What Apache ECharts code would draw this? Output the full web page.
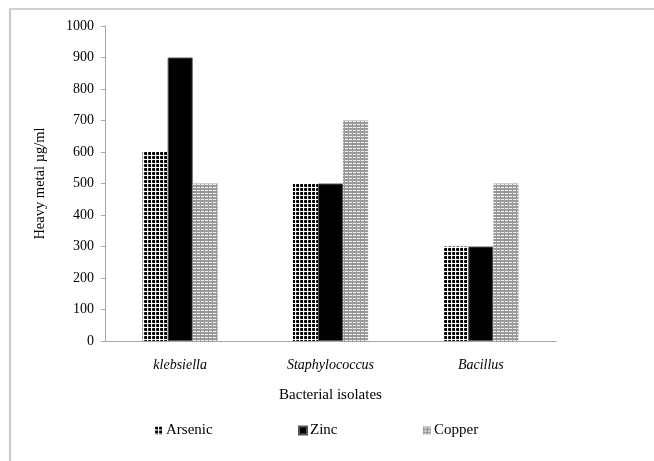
<!DOCTYPE html>
<html>
<head>
<meta charset="utf-8">
<script src="https://cdn.jsdelivr.net/npm/echarts@6/dist/echarts.min.js"></script>
<style>
html,body{margin:0;padding:0;background:#fff;}
#frame{position:absolute;left:9px;top:8px;width:700px;height:500px;border-left:2px solid #c8c8c8;border-top:2px solid #d0d0d0;}
#chart{position:absolute;left:0;top:0;width:654px;height:461px;}
</style>
</head>
<body>
<div id="frame"></div>
<div id="chart"></div>
<script>
const categories = ['klebsiella', 'Staphylococcus', 'Bacillus'];
const seriesNames = ['Arsenic', 'Zinc', 'Copper'];
const arsenic = [600, 500, 300];
const zinc = [900, 500, 300];
const copper = [500, 700, 500];
const yTicks = [0, 100, 200, 300, 400, 500, 600, 700, 800, 900, 1000];

function makePattern(draw, w, h) {
  const c = document.createElement('canvas');
  c.width = w; c.height = h;
  const ctx = c.getContext('2d');
  draw(ctx);
  return { image: c, repeat: 'repeat' };
}
const arsenicPat = makePattern(function (ctx) {
  ctx.fillStyle = '#ffffff'; ctx.fillRect(0, 0, 4, 4);
  ctx.fillStyle = '#000000';
  ctx.fillRect(1, 0, 2, 3);
  ctx.fillRect(0, 1, 3, 1);
  ctx.fillStyle = '#444';
  ctx.fillRect(0, 0, 1, 1);
  ctx.fillRect(0, 2, 1, 1);
}, 4, 4);
const copperPat = makePattern(function (ctx) {
  ctx.fillStyle = '#9a9a9a'; ctx.fillRect(0, 0, 4, 3);
  ctx.fillStyle = '#f0f0f0';
  ctx.fillRect(1, 1, 3, 1);
}, 4, 3);

const chart = echarts.init(document.getElementById('chart'));
const serif = 'Liberation Serif, Times New Roman, serif';
const datasets = [arsenic, zinc, copper];
const colors = [arsenicPat, '#000000', copperPat];

const legendLefts = [150, 293, 418];
chart.setOption({
  animation: false,
  backgroundColor: 'transparent',
  grid: { left: 105, right: 98, top: 26, bottom: 120, containLabel: false },
  legend: seriesNames.map(function (n, i) {
    return {
      data: [n], left: legendLefts[i], top: 418,
      icon: 'rect', itemWidth: 8, itemHeight: 8, itemGap: 0,
      textStyle: { fontFamily: serif, fontSize: 15, color: '#000', padding: [0, 0, 0, -2] }
    };
  }),
  xAxis: {
    type: 'category', data: categories,
    name: 'Bacterial isolates', nameLocation: 'middle', nameGap: 47,
    nameTextStyle: { fontFamily: serif, fontSize: 15, color: '#000' },
    axisLine: { lineStyle: { color: '#a6a6a6', width: 1 } },
    axisTick: { show: false },
    axisLabel: { fontFamily: serif, fontSize: 14, fontStyle: 'italic', color: '#000', margin: 17 }
  },
  yAxis: {
    type: 'value', min: yTicks[0], max: yTicks[yTicks.length - 1], interval: 100,
    name: 'Heavy metal µg/ml', nameLocation: 'middle', nameGap: 57,
    nameTextStyle: { fontFamily: serif, fontSize: 14.5, color: '#000' },
    axisLine: { show: true, lineStyle: { color: '#a6a6a6', width: 1 } },
    axisTick: { show: true, inside: false, length: 4, lineStyle: { color: '#a6a6a6' } },
    splitLine: { show: false },
    axisLabel: { fontFamily: serif, fontSize: 14, color: '#000', margin: 11,
      formatter: function (v) { return String(v); } }
  },
  series: seriesNames.map(function (n, i) {
    return {
      name: n, type: 'bar', data: datasets[i],
      barGap: '0%', barCategoryGap: '50%',
      itemStyle: { color: colors[i], borderColor: i === 1 ? '#555' : 'transparent', borderWidth: i === 1 ? 1 : 0 }
    };
  })
});
</script>
</body>
</html>
